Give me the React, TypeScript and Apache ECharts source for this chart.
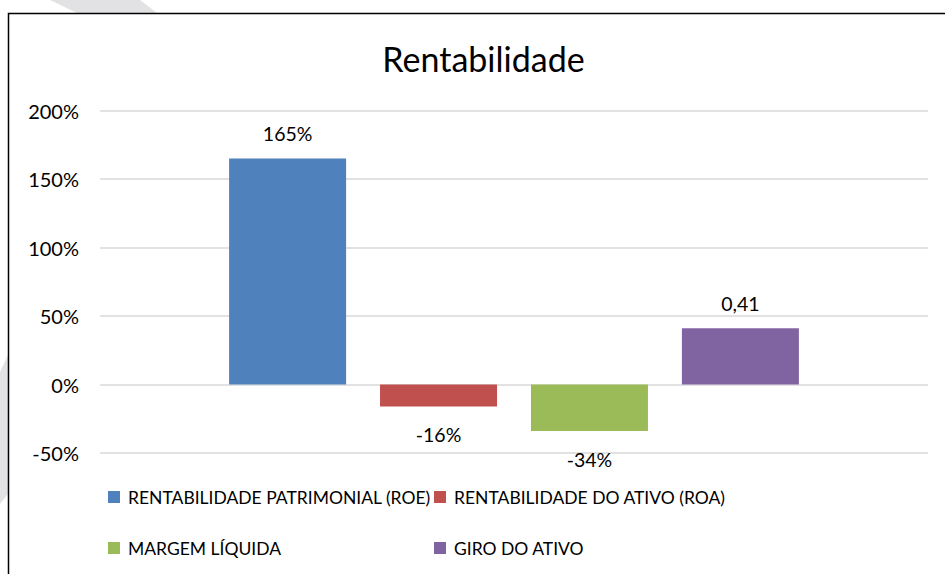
import React, { useEffect, useRef } from "react";
import * as echarts from "echarts";

const seriesNames = [
  "RENTABILIDADE PATRIMONIAL (ROE)",
  "RENTABILIDADE DO ATIVO (ROA)",
  "MARGEM LÍQUIDA",
  "GIRO DO ATIVO",
];
const seriesValues = [1.65, -0.16, -0.34, 0.41];
const labelFormats = ["percent", "percent", "percent", "decimal"];
const seriesColors = ["#4f81bd", "#c0504d", "#9bbb59", "#8064a2"];
const yTicks = { min: -0.5, max: 2, interval: 0.5 };

const FONT = "Lato";

function fmtLabel(v: number, kind: string) {
  if (kind === "percent") return Math.round(v * 100) + "%";
  return v.toFixed(2).replace(".", ",");
}

export default function App() {
  const ref = useRef<HTMLDivElement>(null);
  useEffect(() => {
    if (!ref.current) return;
    const chart = echarts.init(ref.current, undefined, { renderer: "svg" });
    const series = seriesNames.map((name, i) => {
      const v = seriesValues[i];
      return {
        name,
        type: "bar",
        data: [v],
        barWidth: 117,
        barGap: "29%",
        itemStyle: { color: seriesColors[i] },
        label: {
          show: true,
          position: v >= 0 ? "top" : "bottom",
          distance: v >= 0 ? 15 : 18,
          color: "#000",
          fontFamily: FONT,
          fontSize: 19.5,
          formatter: () => fmtLabel(v, labelFormats[i]),
        },
      };
    });
    const legendCommon = {
      orient: "vertical",
      icon: "rect",
      itemWidth: 12,
      itemHeight: 12,
      itemGap: 29,
      padding: 0,
      top: 486,
      textStyle: {
        fontFamily: FONT,
        fontSize: 17.5,
        color: "#000",
        lineHeight: 22,
        padding: [0, 0, 0, 3],
      },
    };
    chart.setOption({
      animation: false,
      backgroundColor: "#fff",
      title: {
        text: "Rentabilidade",
        left: 478.5,
        textAlign: "center",
        top: 36,
        textStyle: { fontFamily: FONT, fontSize: 34, fontWeight: "normal", color: "#000" },
      },
      legend: [
        { ...legendCommon, left: 108, data: [seriesNames[0], seriesNames[2]] },
        { ...legendCommon, left: 434, data: [seriesNames[1], seriesNames[3]] },
      ],
      grid: { left: 100, right: 17, top: 110.5, bottom: 121, containLabel: false },
      xAxis: {
        type: "category",
        data: [""],
        axisLine: { show: false },
        axisTick: { show: false },
        axisLabel: { show: false },
      },
      yAxis: {
        type: "value",
        min: yTicks.min,
        max: yTicks.max,
        interval: yTicks.interval,
        axisLine: { show: false },
        axisTick: { show: false },
        splitLine: { lineStyle: { color: "#d9d9d9", width: 1.5 } },
        axisLabel: {
          margin: 21,
          color: "#000",
          fontFamily: FONT,
          fontSize: 20,
          formatter: (v: number) => Math.round(v * 100) + "%",
        },
      },
      graphic: [
        {
          type: "polygon",
          silent: true,
          shape: { points: [[50, 0], [140, 0], [157, 13], [77, 13]] },
          style: { fill: "#e2e1e4" },
        },
        {
          type: "polygon",
          silent: true,
          shape: { points: [[0, 372], [8, 355], [8, 494], [0, 504]] },
          style: { fill: "#e2e1e4" },
        },
        {
          type: "rect",
          silent: true,
          shape: { x: 8.5, y: 13.5, width: 1200, height: 1200 },
          style: { fill: "none", stroke: "#000", lineWidth: 1.5 },
        },
      ],
      series,
    });
    return () => chart.dispose();
  }, []);
  return (
    <div
      ref={ref}
      style={{ position: "fixed", left: 0, top: 0, width: 945, height: 574 }}
    />
  );
}
